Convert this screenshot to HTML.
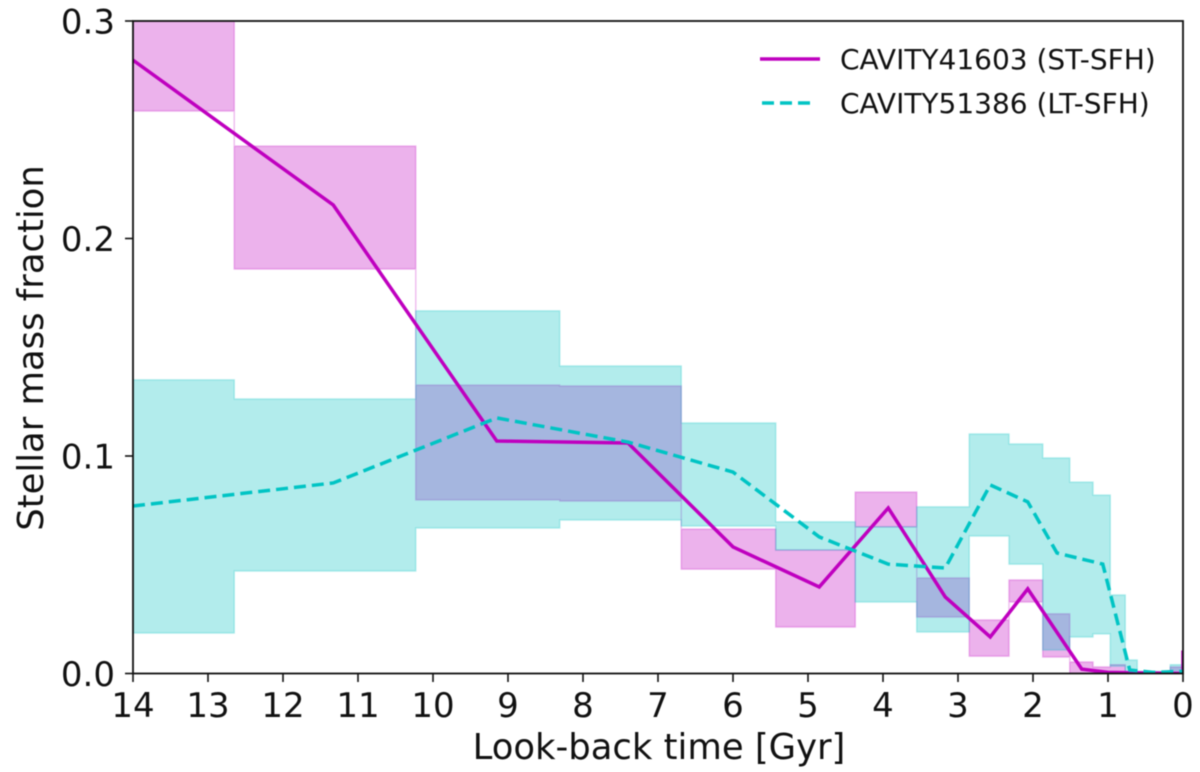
<!DOCTYPE html>
<html>
<head>
<meta charset="utf-8">
<title>Stellar mass fraction vs look-back time</title>
<style>
html,body{margin:0;padding:0;background:#fff;}
svg{display:block;filter:blur(0.55px);}
text{font-family:"DejaVu Sans","Liberation Sans",sans-serif;fill:#111;}
</style>
</head>
<body>
<svg id="chart" width="1200" height="772" viewBox="0 0 1200 772" xmlns="http://www.w3.org/2000/svg">
  <defs><clipPath id="plot-clip"><rect x="133" y="21" width="1050" height="652.5"/></clipPath></defs>
  <rect width="1200" height="772" fill="#fff"/>
  <g id="bands" clip-path="url(#plot-clip)"></g>
  <g id="lines" clip-path="url(#plot-clip)"></g>
  <g id="axes"></g>
  <text x="659" y="759" font-size="35.4" text-anchor="middle">Look-back time [Gyr]</text>
  <text transform="translate(43,348) rotate(-90)" font-size="35.4" text-anchor="middle">Stellar mass fraction</text>
  <g>
    <line x1="760" x2="820" y1="59" y2="59" stroke="#bf00bf" stroke-width="3.5"/>
    <text x="840" y="69" font-size="28">CAVITY41603 (ST-SFH)</text>
    <line x1="762" x2="814" y1="103" y2="103" stroke="#00c4c4" stroke-width="3.5" stroke-dasharray="12 6"/>
    <text x="840" y="113" font-size="28">CAVITY51386 (LT-SFH)</text>
  </g>
</svg>
<script>
const xTickLabels = [14,13,12,11,10,9,8,7,6,5,4,3,2,1,0];
const yTickLabels = ["0.0","0.1","0.2","0.3"];
const binEdges = [14,12.65,10.23,8.31,6.69,5.43,4.37,3.55,2.85,2.32,1.87,1.51,1.2,0.97,0.77,0.61,0.17,0];
const stUpper = [0.300,0.2425,0.1326,0.1322,0.0664,0.0568,0.0834,0.0439,0.0246,0.043,0.0274,0.0053,0.003,0.004,0.0005,0.0003,0.003];
const stLower = [0.2586,0.186,0.0798,0.0793,0.048,0.0214,0.0674,0.026,0.008,0.0329,0.0076,0,0,0,0,0,0];
const ltUpper = [0.135,0.1262,0.1667,0.1414,0.1152,0.0697,0.0674,0.0766,0.1101,0.1055,0.0991,0.088,0.082,0.0361,0.0062,0.001,0.004];
const ltLower = [0.0186,0.0471,0.0669,0.0706,0.0678,0.0568,0.0329,0.0191,0.0632,0.0503,0.0108,0.0168,0.0182,0.0034,0,0,0];
const stAges = [14,11.33,9.15,7.4,6,4.85,3.93,3.17,2.57,2.07,1.35,1,0,0];
const stValues = [0.282,0.2154,0.1069,0.106,0.0582,0.0398,0.0761,0.0352,0.0168,0.0389,0.002,0.0005,0,0.0106];
const ltAges = [14,11.33,9.15,7.4,6,4.85,3.93,3.17,2.57,2.07,1.68,1.07,0.71,0.4,0];
const ltValues = [0.077,0.0876,0.1175,0.1064,0.0926,0.0628,0.0503,0.0485,0.0867,0.0789,0.0554,0.0503,0.0016,0.0005,0.001];

const NS = 'http://www.w3.org/2000/svg';
const xScale = g => 1183 - 75 * g;
const yScale = v => 673.5 - 2175 * v;

function stepPath(edges, upper, lower) {
  let top = '', bottom = '';
  for (let i = 0; i < upper.length; i++) {
    top += (i ? ' L' : 'M') + xScale(edges[i]) + ' ' + yScale(upper[i]) + ' L' + xScale(edges[i + 1]) + ' ' + yScale(upper[i]);
  }
  for (let i = lower.length - 1; i >= 0; i--) {
    bottom += ' L' + xScale(edges[i + 1]) + ' ' + yScale(lower[i]) + ' L' + xScale(edges[i]) + ' ' + yScale(lower[i]);
  }
  return top + bottom + ' Z';
}
function linePath(ages, values) {
  return ages.map((a, i) => (i ? 'L' : 'M') + xScale(a) + ' ' + yScale(values[i])).join(' ');
}

const bands = document.getElementById('bands');
const lines = document.getElementById('lines');
const axes = document.getElementById('axes');

const stBand = document.createElementNS(NS, 'path');


stBand.setAttribute('d', stepPath(binEdges, stUpper, stLower));
stBand.setAttribute('fill', '#bf00bf');
stBand.setAttribute('fill-opacity', '0.3');
stBand.setAttribute('stroke', '#bf00bf');
stBand.setAttribute('stroke-opacity', '0.25');
stBand.setAttribute('stroke-width', '1.5');
bands.appendChild(stBand);

const ltBand = document.createElementNS(NS, 'path');


ltBand.setAttribute('d', stepPath(binEdges, ltUpper, ltLower));
ltBand.setAttribute('fill', '#00bfbf');
ltBand.setAttribute('fill-opacity', '0.3');
ltBand.setAttribute('stroke', '#00bfbf');
ltBand.setAttribute('stroke-opacity', '0.25');
ltBand.setAttribute('stroke-width', '1.5');
bands.appendChild(ltBand);

const stLine = document.createElementNS(NS, 'path');


stLine.setAttribute('d', linePath(stAges, stValues));
stLine.setAttribute('fill', 'none');
stLine.setAttribute('stroke', '#bf00bf');
stLine.setAttribute('stroke-width', '3.5');
lines.appendChild(stLine);

const ltLine = document.createElementNS(NS, 'path');


ltLine.setAttribute('d', linePath(ltAges, ltValues));
ltLine.setAttribute('fill', 'none');
ltLine.setAttribute('stroke', '#00c4c4');
ltLine.setAttribute('stroke-width', '3.5');
ltLine.setAttribute('stroke-dasharray', '12 6');
lines.appendChild(ltLine);

xTickLabels.forEach(label => {
  const x = xScale(label);
  const tick = document.createElementNS(NS, 'line');
  
  
  tick.setAttribute('x1', x);
  tick.setAttribute('x2', x);
  tick.setAttribute('y1', 673.5);
  tick.setAttribute('y2', 682);
  tick.setAttribute('stroke', '#111');
  tick.setAttribute('stroke-width', '1.6');
  axes.appendChild(tick);
  const txt = document.createElementNS(NS, 'text');
  
  
  txt.setAttribute('x', x);
  txt.setAttribute('y', 717);
  txt.setAttribute('font-size', '34');
  txt.setAttribute('text-anchor', 'middle');
  txt.textContent = label;
  axes.appendChild(txt);
});

yTickLabels.forEach(label => {
  const y = yScale(parseFloat(label));
  const tick = document.createElementNS(NS, 'line');
  
  
  tick.setAttribute('x1', 125);
  tick.setAttribute('x2', 133);
  tick.setAttribute('y1', y);
  tick.setAttribute('y2', y);
  tick.setAttribute('stroke', '#111');
  tick.setAttribute('stroke-width', '1.6');
  axes.appendChild(tick);
  const txt = document.createElementNS(NS, 'text');
  
  
  txt.setAttribute('x', 115);
  txt.setAttribute('y', y + 12.5);
  txt.setAttribute('font-size', '34');
  txt.setAttribute('text-anchor', 'end');
  txt.textContent = label;
  axes.appendChild(txt);
});

const frame = document.createElementNS(NS, 'rect');


frame.setAttribute('x', 133);
frame.setAttribute('y', 21);
frame.setAttribute('width', 1050);
frame.setAttribute('height', 652.5);
frame.setAttribute('fill', 'none');
frame.setAttribute('stroke', '#111');
frame.setAttribute('stroke-width', '1.8');
axes.appendChild(frame);
</script>
</body>
</html>
